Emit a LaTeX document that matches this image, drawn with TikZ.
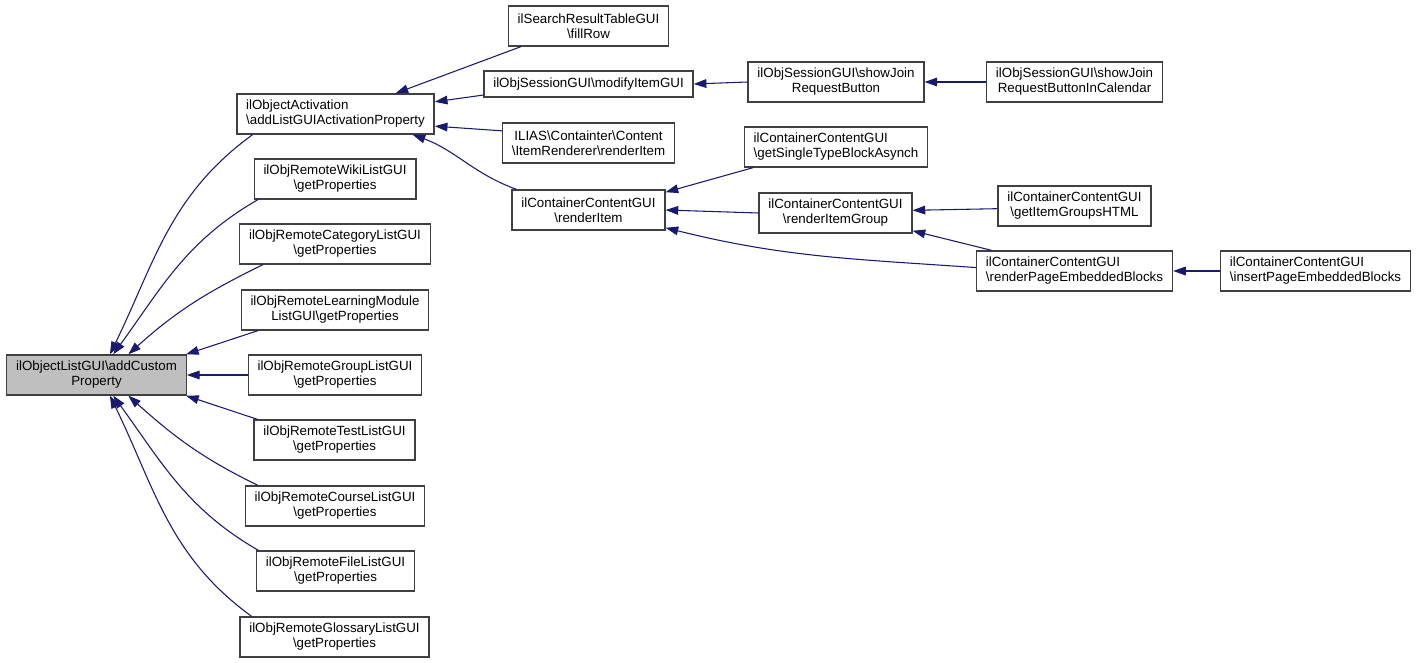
\documentclass[tikz,border=0pt]{standalone}
\usepackage{fontspec}
\setmainfont{Liberation Sans}
\usetikzlibrary{arrows.meta}
\definecolor{edgeblue}{HTML}{191970}
\definecolor{boxline}{HTML}{404040}
\definecolor{curfill}{HTML}{BFBFBF}
\tikzset{
	fn/.style={draw=boxline, line width=1pt, fill=white, align=center, minimum height=30pt,
		inner xsep=7pt, inner ysep=1pt, font=\fontsize{10}{11.25}\selectfont},
	fnl/.style={fn, align=left},
	cur/.style={fn, fill=curfill},
	call/.style={draw=edgeblue, line width=0.8pt, -{Triangle[length=9.5pt,width=6.5pt]}}
}
\begin{document}
\begin{tikzpicture}[x=0.75pt, y=0.75pt]
		\useasboundingbox (0,0) rectangle (1416,-663);
		% callee
		\node[cur] (root) at (96.5,-375) {ilObjectListGUI\textbackslash addCustom\\Property};
		% first callers
		\node[fnl] (act) at (335.5,-114) {ilObjectActivation\\\textbackslash addListGUIActivationProperty};
		\node[fn] (wiki) at (335,-179) {ilObjRemoteWikiListGUI\\\textbackslash getProperties};
		\node[fn] (cat) at (335,-244) {ilObjRemoteCategoryListGUI\\\textbackslash getProperties};
		\node[fn] (lm) at (335,-310) {ilObjRemoteLearningModule\\ListGUI\textbackslash getProperties};
		\node[fn] (grp) at (335,-375) {ilObjRemoteGroupListGUI\\\textbackslash getProperties};
		\node[fn] (test) at (334.5,-440) {ilObjRemoteTestListGUI\\\textbackslash getProperties};
		\node[fn] (course) at (335,-506) {ilObjRemoteCourseListGUI\\\textbackslash getProperties};
		\node[fn] (file) at (335.5,-571) {ilObjRemoteFileListGUI\\\textbackslash getProperties};
		\node[fn] (gloss) at (334.5,-637) {ilObjRemoteGlossaryListGUI\\\textbackslash getProperties};
		% callers of ilObjectActivation
		\node[fn] (fill) at (588.5,-26) {ilSearchResultTableGUI\\\textbackslash fillRow};
		\node[fn, minimum height=19.5pt] (modify) at (588.5,-84) {ilObjSessionGUI\textbackslash modifyItemGUI};
		\node[fn] (itemr) at (588.5,-143) {ILIAS\textbackslash Containter\textbackslash Content\\\textbackslash ItemRenderer\textbackslash renderItem};
		\node[fn] (ritem) at (588.5,-210) {ilContainerContentGUI\\\textbackslash renderItem};
		% next level
		\node[fn] (sjrb) at (836,-82) {ilObjSessionGUI\textbackslash showJoin\\RequestButton};
		\node[fnl] (gstba) at (836,-147) {ilContainerContentGUI\\\textbackslash getSingleTypeBlockAsynch};
		\node[fn] (rig) at (835.5,-213) {ilContainerContentGUI\\\textbackslash renderItemGroup};
		\node[fn] (sjrbc) at (1074.5,-82) {ilObjSessionGUI\textbackslash showJoin\\RequestButtonInCalendar};
		\node[fn] (gighm) at (1074.5,-206) {ilContainerContentGUI\\\textbackslash getItemGroupsHTML};
		\node[fnl] (rpeb) at (1074.5,-271) {ilContainerContentGUI\\\textbackslash renderPageEmbeddedBlocks};
		\node[fnl] (ipeb) at (1315.5,-271) {ilContainerContentGUI\\\textbackslash insertPageEmbeddedBlocks};
		% edges into root
		\draw[call] (act.194) to[out=216, in=64] (root.57);
		\draw[call] (wiki.195) to[out=210, in=54] (root.51);
		\draw[call] (cat.196) to[out=206, in=42] (root.33);
		\draw[call] (lm.195) -- (root.13);
		\draw[call] (grp.west) -- (root.east);
		\draw[call] (test.165) -- (root.-13);
		\draw[call] (course.165) to[out=154, in=-42] (root.-33);
		\draw[call] (file.165) to[out=150, in=-54] (root.-51);
		\draw[call] (gloss.166) to[out=144, in=-64] (root.-57);
		% edges into ilObjectActivation
		\draw[call] (fill.197) -- (act.19);
		\draw[call] (modify.186) -- (act.7);
		\draw[call] (itemr.172) -- (act.-7);
		\draw[call] (ritem.164) to[out=160, in=-20] (act.-15);
		% deeper edges
		\draw[call] (sjrb.west) -- (modify.east);
		\draw[call] (sjrbc.west) -- (sjrb.east);
		\draw[call] (gstba.194) -- (ritem.13);
		\draw[call] (rig.west) -- (ritem.east);
		\draw[call] (rpeb.178) to[out=176, in=-14] (ritem.-13);
		\draw[call] (gighm.182) -- (rig.2);
		\draw[call] (rpeb.166) -- (rig.-13);
		\draw[call] (ipeb.west) -- (rpeb.east);
\end{tikzpicture}
\end{document}
